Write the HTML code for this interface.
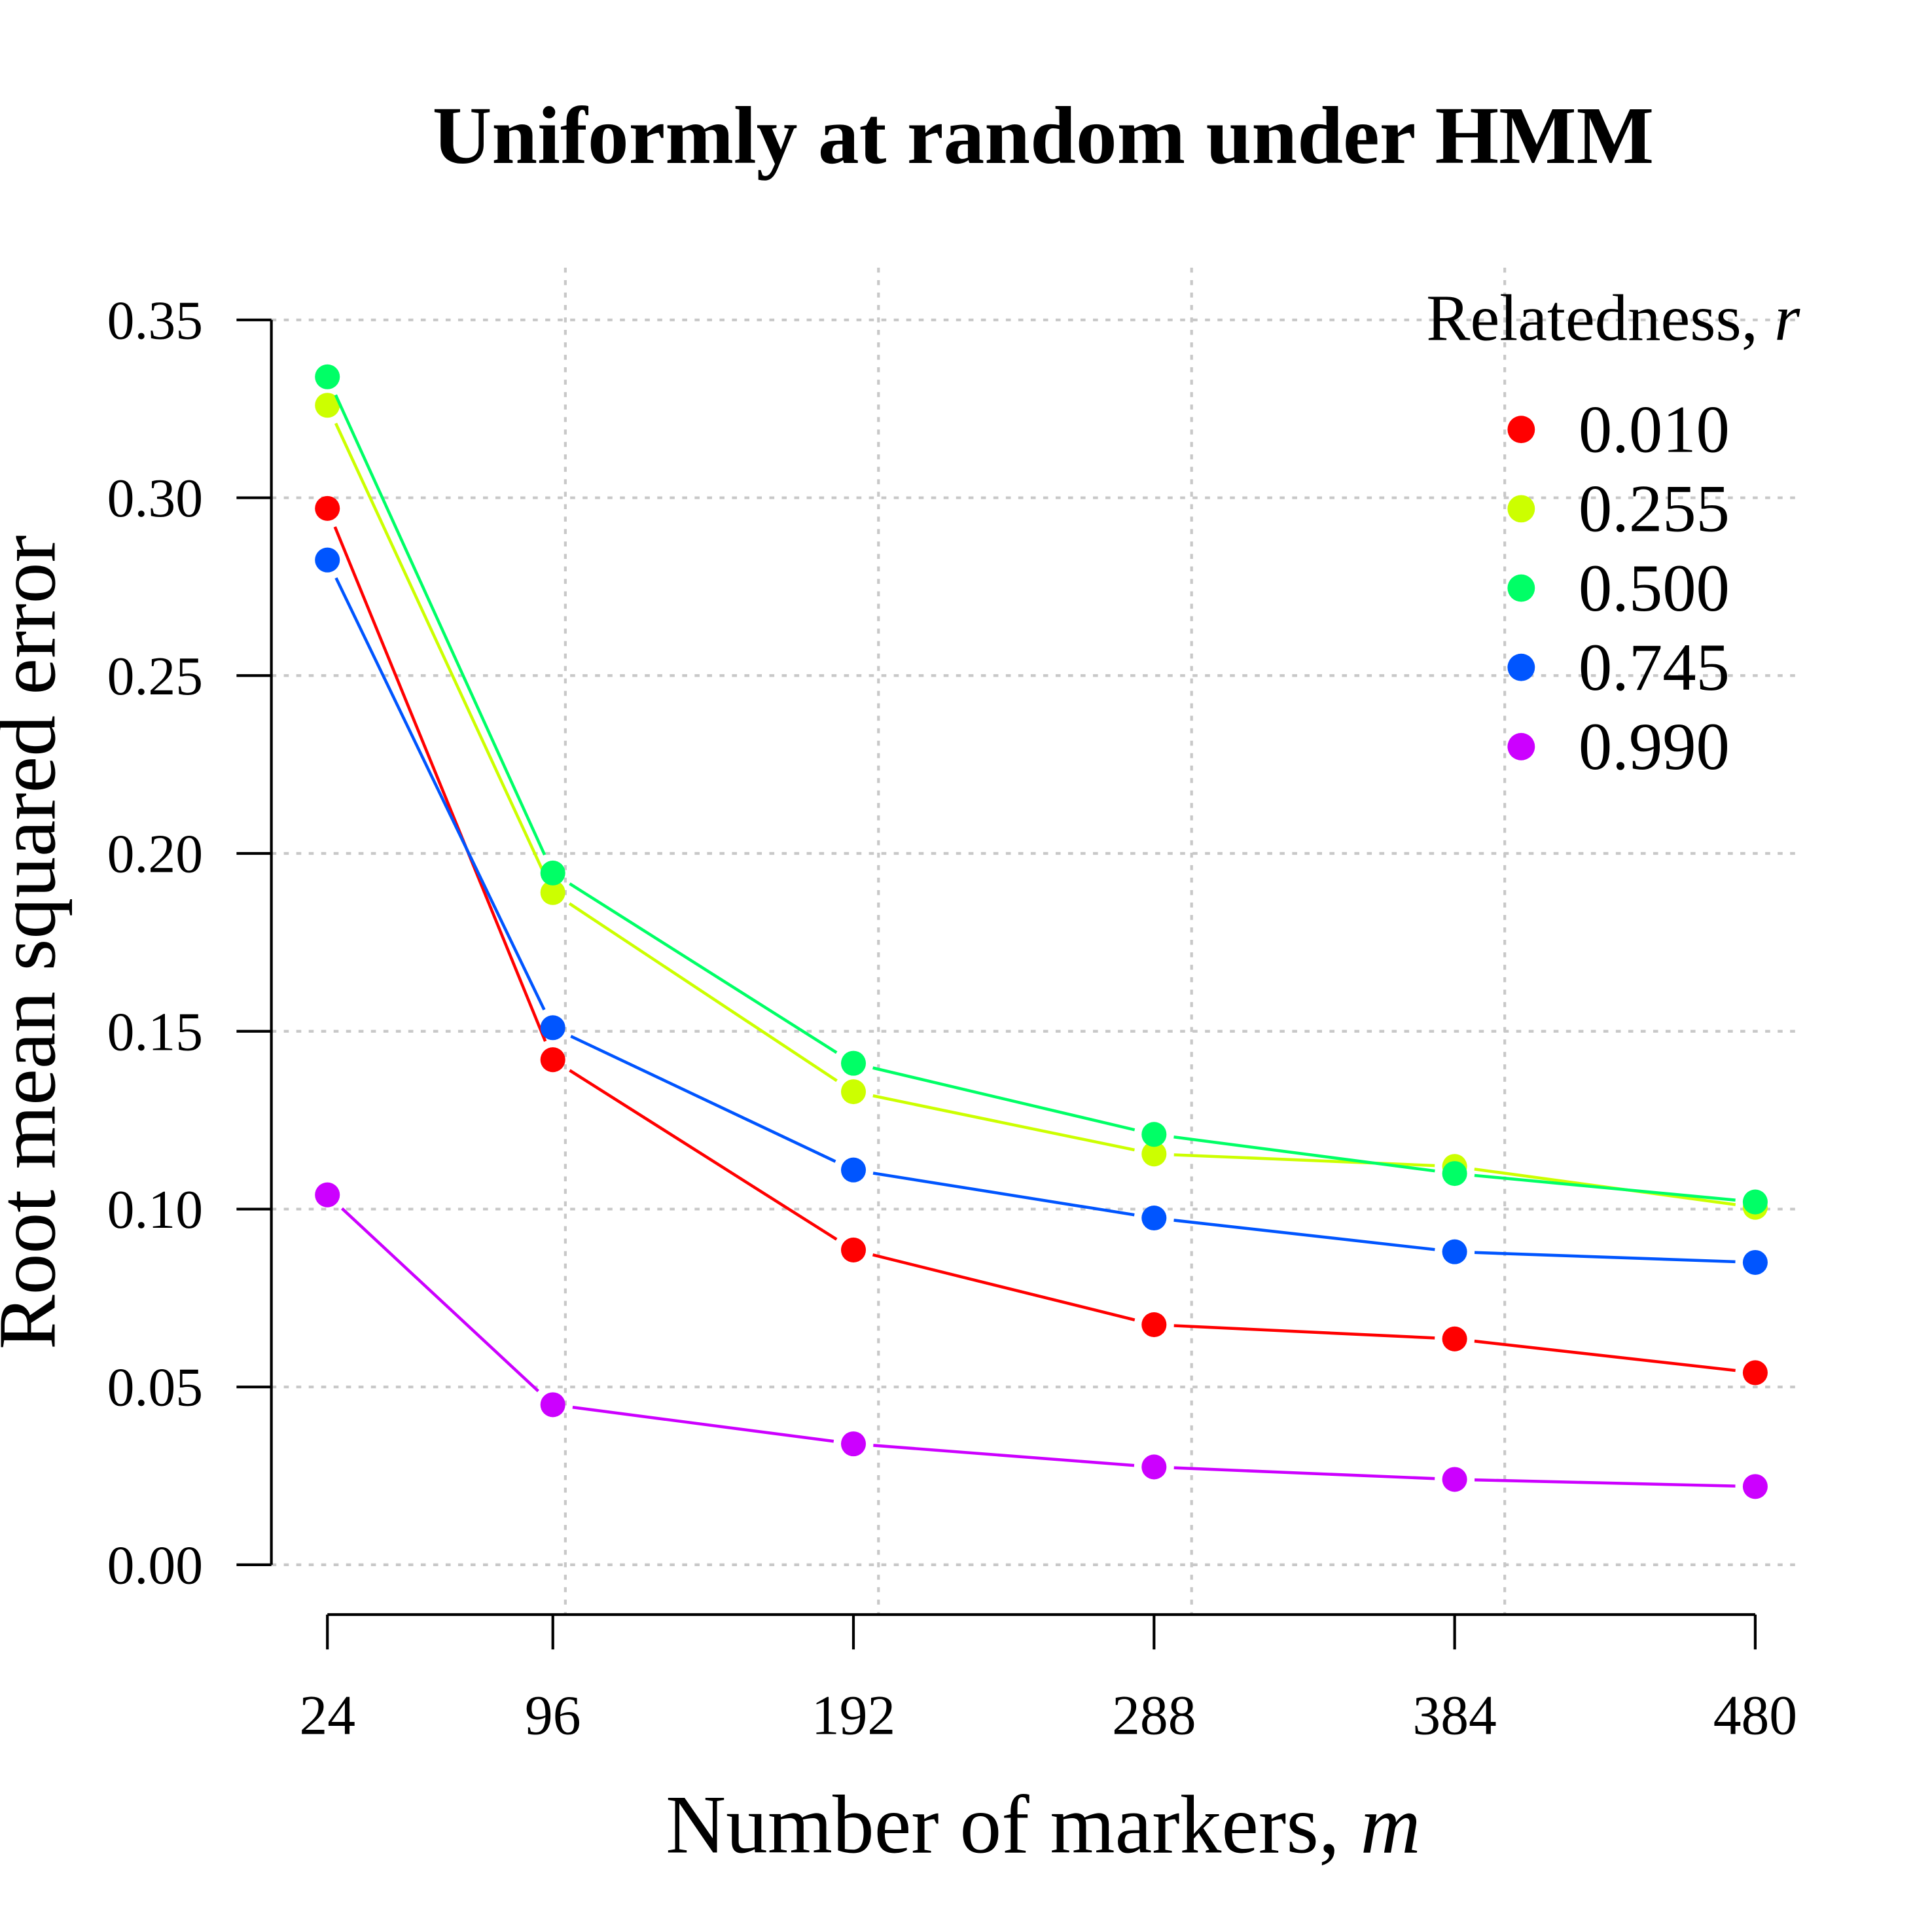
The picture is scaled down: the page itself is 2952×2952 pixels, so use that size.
<!DOCTYPE html>
<html><head><meta charset="utf-8"><style>
html,body{margin:0;padding:0;background:#fff}
svg{display:block}
text{font-family:"Liberation Serif",serif;fill:#000}
</style></head><body>
<svg id="chart" width="2952" height="2952" viewBox="0 0 1552 1552" xmlns="http://www.w3.org/2000/svg">
<rect width="1552" height="1552" fill="#fff"/>
<text x="838" y="131" font-size="66" font-weight="bold" text-anchor="middle">Uniformly at random under HMM</text>
<g id="grid"></g>
<g id="axes"></g>
<g id="series"></g>
<text transform="translate(44,757) rotate(-90)" font-size="66" text-anchor="middle">Root mean squared error</text>
<text x="838" y="1488" font-size="67" text-anchor="middle">Number of markers, <tspan font-style="italic">m</tspan></text>
<g id="legend">
<text x="1446" y="273" font-size="53" text-anchor="end">Relatedness, <tspan font-style="italic">r</tspan></text>
</g>
</svg>
<script>
const xCats = [24, 96, 192, 288, 384, 480];
const seriesNames = ["0.010", "0.255", "0.500", "0.745", "0.990"];
const sRed = [0.297, 0.142, 0.0885, 0.0675, 0.0635, 0.054];
const sYellow = [0.326, 0.189, 0.133, 0.1155, 0.112, 0.1005];
const sGreen = [0.334, 0.1945, 0.141, 0.121, 0.110, 0.102];
const sBlue = [0.2825, 0.151, 0.111, 0.0975, 0.088, 0.085];
const sPurple = [0.104, 0.045, 0.034, 0.0275, 0.024, 0.022];
const yTicks = [0, 0.05, 0.10, 0.15, 0.20, 0.25, 0.30, 0.35];
const yTickLabels = ["0.00","0.05","0.10","0.15","0.20","0.25","0.30","0.35"];
const xGrid = [100, 200, 300, 400];
const colors = ["#ff0000","#ccff00","#00ff66","#0055ff","#cc00ff"];
const allSeries = [sRed, sYellow, sGreen, sBlue, sPurple];

const NS = "http://www.w3.org/2000/svg";
function xs(v){ return 263 + (v - 24) * (1410 - 263) / (480 - 24); }
function ys(v){ return 1257 - v * (1000 / 0.35); }
function mk(tag, attrs, parent){ const e = document.createElementNS(NS, tag); for (const k in attrs) e.setAttribute(k, attrs[k]); parent.appendChild(e); return e; }

const grid = document.getElementById("grid");
yTicks.forEach(t => {
  const l = mk("line", {x1:218, x2:1448, y1:ys(t), y2:ys(t), stroke:"#c8c8c8", "stroke-width":2.2, "stroke-dasharray":"4 6"}, grid);
  
  
});
xGrid.forEach(t => {
  const l = mk("line", {x1:xs(t), x2:xs(t), y1:215, y2:1297, stroke:"#c8c8c8", "stroke-width":2.2, "stroke-dasharray":"4 6"}, grid);
  
  
});

const axes = document.getElementById("axes");
mk("line", {x1:218, x2:218, y1:ys(0.35), y2:ys(0), stroke:"#000", "stroke-width":2.2}, axes);
yTicks.forEach((t, i) => {
  mk("line", {x1:190, x2:218, y1:ys(t), y2:ys(t), stroke:"#000", "stroke-width":2.2}, axes);
  const tx = mk("text", {x:163, y:ys(t) + 15, "font-size":44, "text-anchor":"end"}, axes);
  tx.textContent = yTickLabels[i];
  
  
});
mk("line", {x1:xs(24), x2:xs(480), y1:1297, y2:1297, stroke:"#000", "stroke-width":2.2}, axes);
xCats.forEach(c => {
  mk("line", {x1:xs(c), x2:xs(c), y1:1297, y2:1325, stroke:"#000", "stroke-width":2.2}, axes);
  const tx = mk("text", {x:xs(c), y:1393, "font-size":45, "text-anchor":"middle"}, axes);
  tx.textContent = c;
  
  
});

const ser = document.getElementById("series");
allSeries.forEach((vals, si) => {
  const g = mk("g", {}, ser);
  
  
  for (let i = 0; i < vals.length - 1; i++) {
    const x1 = xs(xCats[i]), y1 = ys(vals[i]), x2 = xs(xCats[i+1]), y2 = ys(vals[i+1]);
    const dx = x2 - x1, dy = y2 - y1, len = Math.hypot(dx, dy), gap = 16;
    if (len > 2 * gap) {
      const l = mk("line", {x1:x1 + dx*gap/len, y1:y1 + dy*gap/len, x2:x2 - dx*gap/len, y2:y2 - dy*gap/len, stroke:colors[si], "stroke-width":2.4}, g);
      
      
    }
  }
  vals.forEach((v, i) => {
    const p = mk("circle", {cx:xs(xCats[i]), cy:ys(v), r:10, fill:colors[si]}, g);
    
    
  });
});

const leg = document.getElementById("legend");
seriesNames.forEach((n, i) => {
  const y = 345 + i * 63.7;
  const c = mk("circle", {cx:1222, cy:y, r:11, fill:colors[i]}, leg);
  
  
  const t = mk("text", {x:1268, y:y + 18, "font-size":54}, leg);
  t.textContent = n;
  
  
});
</script>
</body></html>
